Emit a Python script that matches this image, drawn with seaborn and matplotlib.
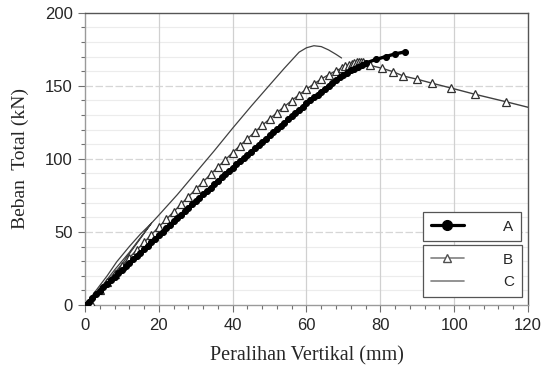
import matplotlib
matplotlib.use("Agg")
import matplotlib.pyplot as plt
import seaborn as sns
from matplotlib.ticker import MultipleLocator
from matplotlib.lines import Line2D

# ---- data ----
A_x = [0, 1, 2, 3, 4, 5, 6, 7, 8, 9, 10, 11, 12, 13, 14, 15, 16, 17, 18, 19,
       20, 21, 22, 23, 24, 25, 26, 27, 28, 29, 30, 31, 32, 33, 34, 35, 36, 37,
       38, 39, 40, 41, 42, 43, 44, 45, 46, 47, 48, 49, 50, 51, 52, 53, 54, 55,
       56, 57, 58, 59, 60, 61, 62, 63, 64, 65, 66, 67, 68, 69, 70, 71, 72, 73,
       74, 75, 76, 78.8, 81.5, 84, 86.7]
A_y = [0, 2.4, 4.8, 7.2, 9.6, 12, 14.4, 16.8, 19.2, 21.6, 24, 26.4, 28.8, 31.2,
       33.5, 35.9, 38.3, 40.6, 43, 45.4, 47.8, 50.1, 52.5, 54.8, 57.2, 59.5,
       61.9, 64.2, 66.6, 68.9, 71.2, 73.5, 75.8, 78.1, 80.4, 82.7, 85, 87.3,
       89.6, 91.8, 94, 96.2, 98.4, 100.6, 102.8, 105, 107.2, 109.4, 111.6,
       113.8, 116, 118.2, 120.4, 122.6, 124.8, 127, 129.2, 131.4, 133.6, 135.8,
       138, 140, 142, 144, 146, 148, 150, 152, 154, 155.8, 157.5, 159, 160.5,
       161.8, 163, 164.3, 165.5, 168, 170, 171.8, 173.2]

B_x = [1.8, 4, 6, 8, 10, 12, 14, 16, 18, 20, 22, 24, 26, 28, 30, 32, 34, 36, 38,
       40, 42, 44, 46, 48, 50, 52, 54, 56, 58, 60, 62, 64, 66, 68, 69.5, 70.5,
       71.5, 72.3, 73, 73.6, 74.2, 74.8, 75.3, 77.2, 80.4, 83.5, 86.2, 89.8,
       94.1, 99.1, 105.6, 114, 120]
B_y = [0, 10.5, 16, 21.5, 27, 32.3, 37.6, 42.9, 48.2, 53.4, 58.6, 63.8, 69, 74.1,
       79.2, 84.3, 89.4, 94.4, 99.4, 104.3, 109.1, 113.8, 118.4, 122.9, 127.3,
       131.6, 135.8, 139.9, 143.9, 147.7, 151.3, 154.6, 157.6, 160.3, 162, 163.2,
       164.2, 165, 165.6, 166, 166.2, 166.3, 166.2, 164, 162, 159.6, 156.7, 154.6,
       151.7, 148.5, 144.2, 139.1, 135.3]

C_x = [0, 3, 6, 8.6, 12, 15, 18, 14, 10, 6, 4, 8, 12, 15, 18, 20, 25, 30, 35, 40,
       45, 50, 54, 58, 60, 62, 64, 66, 68, 69.5]
C_y = [0, 10, 20, 29.6, 40, 48.5, 56, 42, 28, 16, 11, 24, 36, 46, 56, 61.5, 75.5,
       90.5, 105.5, 121, 136, 150.5, 162, 173, 176, 177.4, 176.8, 174.5, 171.5, 169]

x_ticks = [0, 20, 40, 60, 80, 100, 120]
y_ticks = [0, 50, 100, 150, 200]
series_labels = ["A", "B", "C"]

# ---- figure ----
sns.set_style("white")
plt.rcParams["font.family"] = ["Liberation Sans", "DejaVu Sans"]

fig = plt.figure(figsize=(5.46, 3.69), dpi=100)
ax = fig.add_axes([0.1557, 0.1734, 0.967 - 0.1557, 0.9656 - 0.1734])

# grid
for yv in range(10, 200, 10):
    if yv % 50:
        ax.axhline(yv, color="#ececec", lw=0.8, zorder=0)
for yv in [50, 100, 150]:
    ax.axhline(yv, color="#d6d6d6", lw=0.9, ls=(0, (6, 2)), zorder=0)
for xv in [20, 40, 60, 80, 100]:
    ax.axvline(xv, color="#d0d0d0", lw=0.9, zorder=0)

sns.lineplot(x=C_x, y=C_y, sort=False, estimator=None, ax=ax,
             color="#404040", lw=0.9, zorder=3)
sns.lineplot(x=B_x, y=B_y, sort=False, estimator=None, ax=ax,
             color="#404040", lw=1.0, marker="^", markersize=6,
             markerfacecolor="white", markeredgecolor="#303030",
             markeredgewidth=0.9, markevery=list(range(len(B_x) - 1)), zorder=4)
sns.lineplot(x=A_x, y=A_y, sort=False, estimator=None, ax=ax,
             color="black", lw=2.4, marker="o", markersize=4.3,
             markeredgecolor="black", zorder=5)

ax.set_xlim(0, 120)
ax.set_ylim(0, 200)
ax.set_xticks(x_ticks)
ax.set_yticks(y_ticks)
ax.xaxis.set_minor_locator(MultipleLocator(4))
ax.yaxis.set_minor_locator(MultipleLocator(10))
ax.tick_params(axis="both", which="major", direction="out", length=5, width=0.8,
               color="#707070", labelsize=12, pad=4)
ax.tick_params(axis="both", which="minor", direction="out", length=3, width=0.8,
               color="#707070")
ax.tick_params(axis="x", which="both", bottom=True)
ax.tick_params(axis="y", which="both", left=True)

for side in ["left", "bottom"]:
    ax.spines[side].set_color("#9a9a9a")
    ax.spines[side].set_linewidth(1.0)
for side in ["top", "right"]:
    ax.spines[side].set_color("#555555")
    ax.spines[side].set_linewidth(1.0)

ax.set_xlabel("Peralihan Vertikal (mm)", family="Liberation Serif", fontsize=14.5,
              labelpad=10)
ax.set_ylabel("Beban  Total (kN)", family="Liberation Serif", fontsize=14,
              labelpad=11)

# legends (two stacked boxes, as in the reference)
hA = Line2D([], [], color="black", lw=2.3, marker="o", markersize=7)
hB = Line2D([], [], color="#808080", lw=1.2, marker="^", markersize=6,
            markerfacecolor="white", markeredgecolor="#505050")
hC = Line2D([], [], color="#808080", lw=1.2)
common = dict(frameon=True, fancybox=False, fontsize=11, handlelength=2.2,
              handletextpad=2.55, borderpad=0.5, framealpha=1, edgecolor="#555555",
              borderaxespad=0)
legA = ax.legend([hA], [series_labels[0]], loc="upper left",
                 bbox_to_anchor=(0.763, 0.318), **common)
legA.get_frame().set_linewidth(0.9)
ax.add_artist(legA)
legBC = ax.legend([hB, hC], series_labels[1:], loc="upper left",
                  bbox_to_anchor=(0.763, 0.205), labelspacing=0.55, **common)
legBC.get_frame().set_linewidth(0.9)

fig.savefig("out.png", dpi=100)
